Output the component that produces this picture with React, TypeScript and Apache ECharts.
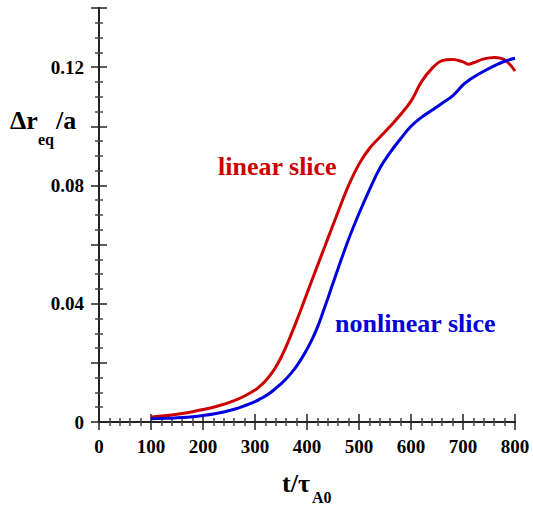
import React, { useEffect, useRef } from "react";
import * as echarts from "echarts";

const tValues = [100, 120, 140, 160, 180, 200, 220, 240, 260, 280, 300, 310, 320, 330, 340, 350, 360, 370, 380, 390, 400, 410, 420, 430, 440, 460, 480, 500, 520, 540, 560, 580, 600, 620, 640, 660, 680, 700, 710, 720, 740, 760, 780, 800];
const linearSlice = [0.0017, 0.002, 0.0024, 0.0029, 0.0035, 0.0042, 0.005, 0.006, 0.0072, 0.0088, 0.0108, 0.0122, 0.0139, 0.016, 0.0186, 0.0218, 0.0256, 0.0298, 0.0342, 0.0388, 0.0435, 0.0482, 0.0528, 0.0574, 0.062, 0.0712, 0.08, 0.0872, 0.0925, 0.0963, 0.1, 0.104, 0.1085, 0.115, 0.1195, 0.1222, 0.1226, 0.1218, 0.121, 0.1215, 0.1228, 0.1233, 0.1225, 0.1187];
const nonlinearSlice = [0.0011, 0.0012, 0.0013, 0.0015, 0.0018, 0.0022, 0.0027, 0.0034, 0.0043, 0.0055, 0.0069, 0.0078, 0.0088, 0.01, 0.0114, 0.0129, 0.0146, 0.0166, 0.0189, 0.0216, 0.0246, 0.028, 0.032, 0.0368, 0.0418, 0.052, 0.0618, 0.0705, 0.0785, 0.0858, 0.0912, 0.0958, 0.1, 0.103, 0.1054, 0.1078, 0.1103, 0.114, 0.1154, 0.1166, 0.1186, 0.1204, 0.122, 0.123];

const FONT = "Liberation Serif";
const RED = "#cc0000";
const BLUE = "#0000dd";

export default function App() {
  const ref = useRef<HTMLDivElement>(null);
  useEffect(() => {
    const chart = echarts.init(ref.current!, null, { renderer: "svg" });
    const axisLine = { show: true, lineStyle: { color: "#222", width: 2 } };
    const xCommon = {
      type: "value",
      min: 0,
      max: 800,
      interval: 100,
      axisLine,
      axisTick: { show: true, inside: true, length: 8, lineStyle: { color: "#222", width: 1.5 } },
      minorTick: { show: true, splitNumber: 5, length: 4, lineStyle: { color: "#444", width: 1.5 } },
      splitLine: { show: false },
    };
    const yCommon = {
      type: "value",
      min: 0,
      max: 0.14,
      interval: 0.02,
      axisLine,
      axisTick: { show: true, inside: true, length: 8, lineStyle: { color: "#222", width: 1.5 } },
      minorTick: { show: true, splitNumber: 4, length: 4, lineStyle: { color: "#444", width: 1.5 } },
      splitLine: { show: false },
    };
    const labelStyle = { fontFamily: FONT, fontWeight: "bold", fontSize: 19, color: "#000" };
    const txt = (text: string, left: number, top: number, size: number, fill: string) => ({
      type: "text",
      left,
      top,
      style: { text, font: `bold ${size}px ${FONT}`, fill },
    });
    chart.setOption({
      animation: false,
      textStyle: { fontFamily: FONT },
      grid: { left: 99, right: 18, top: 8, bottom: 84, containLabel: false },
      xAxis: [
        { ...xCommon, position: "bottom", axisLabel: { ...labelStyle, margin: 15 } },
        { ...xCommon, position: "top", axisLabel: { show: false } },
      ],
      yAxis: [
        {
          ...yCommon,
          position: "left",
          axisLabel: {
            ...labelStyle,
            margin: 15,
            formatter: (v: number) => {
              const k = Math.round(v * 100);
              if (k % 4 !== 0) return "";
              return k === 0 ? "0" : (k / 100).toFixed(2);
            },
          },
        },
        { ...yCommon, position: "right", axisLabel: { show: false } },
      ],
      series: [
        {
          type: "line",
          name: "linear slice",
          data: tValues.map((t, i) => [t, linearSlice[i]]),
          showSymbol: false,
          smooth: 0.4,
          lineStyle: { color: RED, width: 3 },
        },
        {
          type: "line",
          name: "nonlinear slice",
          data: tValues.map((t, i) => [t, nonlinearSlice[i]]),
          showSymbol: false,
          smooth: 0.4,
          lineStyle: { color: BLUE, width: 3 },
        },
      ],
      graphic: [
        txt("Δr", 10, 107, 26, "#000"),
        txt("eq", 38, 131, 16, "#000"),
        txt("/a", 56, 107, 26, "#000"),
        txt("t/τ", 282, 470, 26, "#000"),
        txt("A0", 312, 489, 16, "#000"),
        txt("linear slice", 218, 153, 26, RED),
        txt("nonlinear slice", 335, 310, 26, BLUE),
      ],
    });
    return () => chart.dispose();
  }, []);
  return <div ref={ref} style={{ width: 533, height: 506, position: "absolute", left: 0, top: 0 }} />;
}
